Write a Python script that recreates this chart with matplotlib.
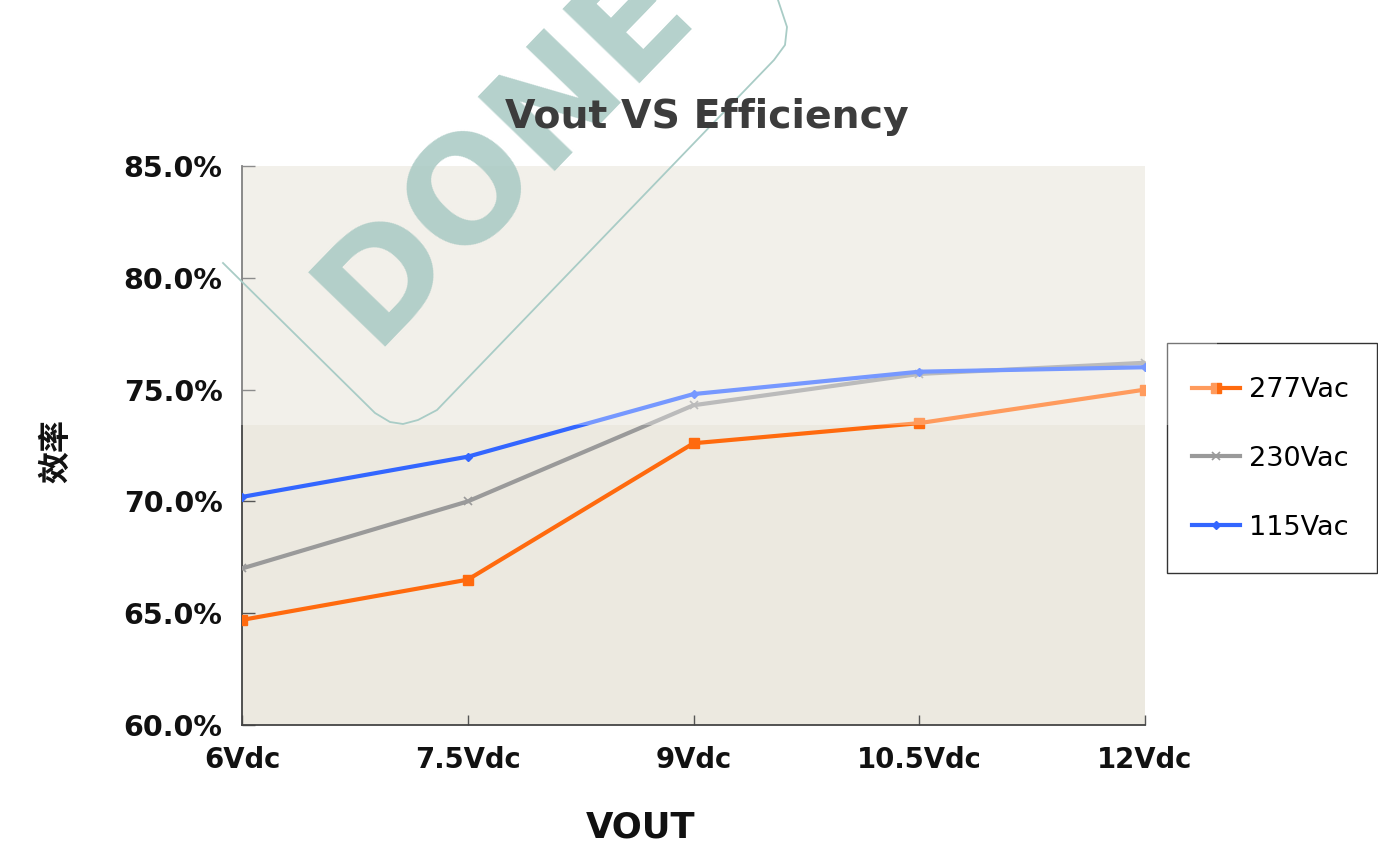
import matplotlib
matplotlib.use("Agg")
import matplotlib.pyplot as plt
from matplotlib.patches import Rectangle
from matplotlib.lines import Line2D
from matplotlib.ticker import FuncFormatter

categories = ["6Vdc", "7.5Vdc", "9Vdc", "10.5Vdc", "12Vdc"]
eff_277 = [64.7, 66.5, 72.6, 73.5, 75.0]
eff_230 = [67.0, 70.0, 74.3, 75.7, 76.2]
eff_115 = [70.2, 72.0, 74.8, 75.8, 76.0]
yticks = [60, 65, 70, 75, 80, 85]

W, H = 1378, 865
fig = plt.figure(figsize=(W / 100, H / 100), dpi=100)
fig.patch.set_facecolor("white")

def fx(px):
    return px / W

def fy(py):
    return 1 - py / H

ax = fig.add_axes([fx(242), fy(725), fx(1145) - fx(242), fy(166) - fy(725)])
ax.set_facecolor("#ECE9E0")

x = list(range(len(categories)))
ax.plot(x, eff_277, color="#FF6A0E", lw=3.0, marker="s", ms=7, label="277Vac", zorder=3)
ax.plot(x, eff_230, color="#9A9A9A", lw=3.0, marker="x", ms=6, mew=1.2, label="230Vac", zorder=3)
ax.plot(x, eff_115, color="#3366FF", lw=3.0, marker="D", ms=4.5, label="115Vac", zorder=4)

ax.set_xlim(0, len(categories) - 1)
ax.set_ylim(60, 85)
ax.set_yticks(yticks)
ax.yaxis.set_major_formatter(FuncFormatter(lambda v, p: f"{v:.1f}%"))
ax.set_xticks(x)
ax.set_xticklabels(categories)

for s in ["top", "right"]:
    ax.spines[s].set_visible(False)
for s in ["left", "bottom"]:
    ax.spines[s].set_color("#444444")
    ax.spines[s].set_linewidth(1.3)

ax.tick_params(axis="y", direction="in", length=9, width=1.0, color="#555555",
               labelsize=20.5, pad=14)
ax.tick_params(axis="x", direction="in", length=7.5, width=1.0, color="#555555",
               labelsize=19.8, pad=15)
for lab in ax.get_xticklabels() + ax.get_yticklabels():
    lab.set_fontweight("bold")
    lab.set_color("#111111")

# legend (frameless) plus a drawn frame box
leg = ax.legend(loc="upper left", bbox_to_anchor=(fx(1192), fy(377)),
                bbox_transform=fig.transFigure, borderaxespad=0,
                fontsize=19.5, handlelength=1.78, handletextpad=0.33,
                labelspacing=1.58, borderpad=0, frameon=False)
fig.patches.append(Rectangle((fx(1167), fy(573)), fx(1377) - fx(1167), fy(343) - fy(573),
                             transform=fig.transFigure, facecolor="none",
                             edgecolor="#333333", lw=1.0, zorder=0.5))

# watermark lightening layer
fig.patches.append(Rectangle((fx(240), fy(425)), fx(1217) - fx(240), 1 - fy(425),
                             transform=fig.transFigure, facecolor="white",
                             alpha=0.33, edgecolor="none", zorder=1))

# watermark outline
ox = [223, 375, 390, 403, 418, 437, 774, 785, 787, 778]
oy = [263, 413, 422, 424, 420, 410, 60, 45, 27, 0]
fig.lines.append(Line2D([fx(v) for v in ox], [fy(v) for v in oy],
                        transform=fig.transFigure, color="#A9CCC6", lw=1.3,
                        zorder=2))

# watermark text
fig.text(fx(372), fy(347), "DONE", rotation=46, rotation_mode="anchor",
         ha="left", va="baseline", fontsize=105, fontweight="bold",
         color="#A8C9C3", alpha=0.85, zorder=2)

fig.text(fx(707), fy(117), "Vout VS Efficiency", ha="center", va="center",
         fontsize=28.4, fontweight="bold", color="#3C3C3C", zorder=3)
fig.text(fx(641), fy(828), "VOUT", ha="center", va="center",
         fontsize=25.5, fontweight="bold", color="#111111")
fig.text(fx(56), fy(451), "效率", ha="center", va="center", rotation=90,
         fontsize=23, fontweight="bold", color="#111111",
         family=["Noto Sans CJK SC", "DejaVu Sans"])

fig.savefig("out.png", dpi=100)
